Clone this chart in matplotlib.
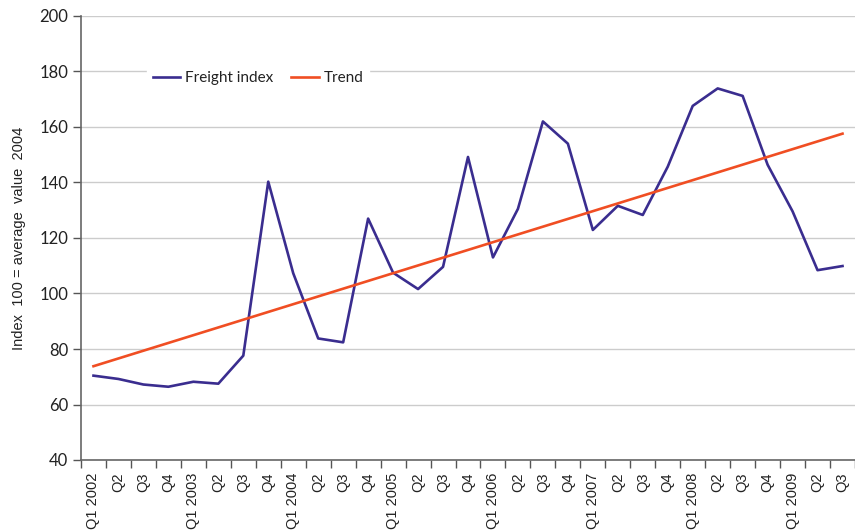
import matplotlib
matplotlib.use("Agg")
import matplotlib.pyplot as plt

quarters = ["Q1 2002", "Q2", "Q3", "Q4",
            "Q1 2003", "Q2", "Q3", "Q4",
            "Q1 2004", "Q2", "Q3", "Q4",
            "Q1 2005", "Q2", "Q3", "Q4",
            "Q1 2006", "Q2", "Q3", "Q4",
            "Q1 2007", "Q2", "Q3", "Q4",
            "Q1 2008", "Q2", "Q3", "Q4",
            "Q1 2009", "Q2", "Q3"]
freight_index = [70.4, 69.2, 67.2, 66.4, 68.2, 67.5, 77.6, 140.3,
                 107.3, 83.8, 82.4, 127.0, 107.5, 101.6, 109.6, 149.2,
                 113.0, 130.5, 162.0, 154.0, 122.9, 131.6, 128.3, 145.7,
                 167.6, 173.9, 171.2, 146.4, 129.6, 108.4, 109.9]
trend_start_end = [73.8, 157.6]

fig = plt.figure(figsize=(8.55, 5.3), dpi=100)
ax = fig.add_axes([81/855, 1 - 460/530, 1 - 81/855, (460 - 16)/530])

x = list(range(len(quarters)))
ax.plot(x, freight_index, color="#3a2d8f", lw=1.9, label="Freight index", zorder=3)
ax.plot([x[0], x[-1]], trend_start_end, color="#f04e23", lw=1.9, label="Trend", zorder=3)

ax.set_ylim(40, 200)
ax.set_yticks(range(40, 201, 20))
ax.set_xlim(-0.5, 30.36)
ax.set_xticks(x)
ax.set_xticklabels(quarters, rotation=90, fontsize=10.5, family="Liberation Sans", color="#222222")
ax.tick_params(axis="x", length=0, pad=9)
minor = [i - 0.5 for i in range(len(quarters) + 1)]
ax.set_xticks(minor, minor=True)
ax.tick_params(axis="x", which="minor", length=6, width=1, color="#555555", direction="out")
ax.tick_params(axis="y", length=6, width=1, color="#555555", direction="out", pad=3,
               labelsize=12)
for lbl in ax.get_yticklabels():
    lbl.set_family("Lato")
    lbl.set_color("#222222")

ax.grid(axis="y", color="#cccccc", lw=1)
ax.set_axisbelow(True)
for s in ["top", "right"]:
    ax.spines[s].set_visible(False)
ax.spines["left"].set_color("#666666")
ax.spines["bottom"].set_color("#666666")
ax.spines["left"].set_linewidth(1.2)
ax.spines["bottom"].set_linewidth(1.2)

ax.set_ylabel("Index  100 = average  value  2004", family="Liberation Sans",
              fontsize=10.5, color="#222222", labelpad=10)

leg = ax.legend(loc="center", bbox_to_anchor=((258 - 81) / 774, 1 - (78 - 16) / 444),
                ncol=2, frameon=True, fancybox=False, framealpha=1, edgecolor="white",
                facecolor="white", handlelength=1.8, handletextpad=0.3, columnspacing=1.2,
                borderpad=0.4, prop={"family": "Lato", "size": 11})
leg.set_zorder(5)
for t in leg.get_texts():
    t.set_color("#222222")

fig.savefig("out.png", dpi=100)
